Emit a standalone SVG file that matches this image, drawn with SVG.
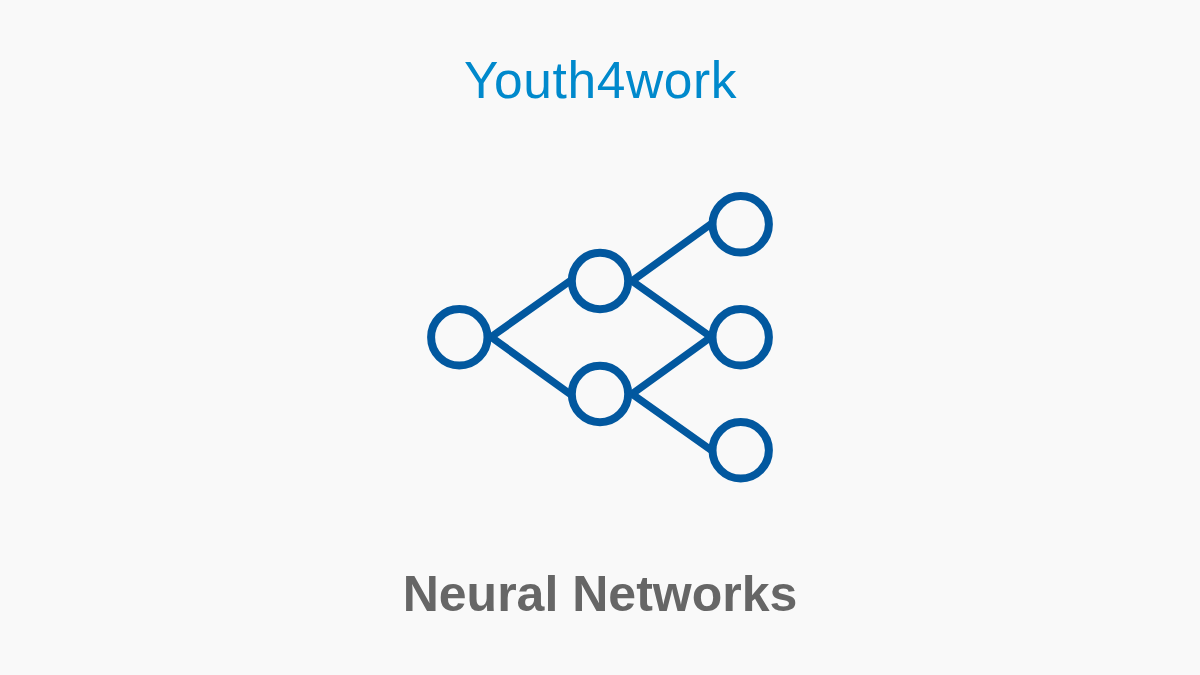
<svg xmlns="http://www.w3.org/2000/svg" width="1200" height="675" viewBox="0 0 1200 675">
<style>
.l{stroke:#02589f;stroke-width:7.5;fill:none;stroke-linecap:round}
.n{stroke:#02589f;stroke-width:8;fill:none}
text{font-family:"Liberation Sans",Arial,sans-serif;text-anchor:middle}
</style>
<rect width="1200" height="675" fill="#f9f9f9"/>
<text id="brand" x="600.5" y="98" font-size="51.5" letter-spacing="0.6" fill="#0089cc">Youth4work</text>
<g id="connectors">
<line class="l" x1="491" y1="337" x2="570" y2="281"/>
<line class="l" x1="491" y1="337" x2="570" y2="394"/>
<line class="l" x1="632" y1="281" x2="711" y2="224"/>
<line class="l" x1="632" y1="281" x2="711" y2="337"/>
<line class="l" x1="632" y1="394" x2="711" y2="337"/>
<line class="l" x1="632" y1="394" x2="711" y2="450"/>
</g>
<g id="n1"><circle class="n" cx="459.3" cy="337.3" r="28.2"/></g>
<g id="n2"><circle class="n" cx="600" cy="281" r="28.2"/></g>
<g id="n3"><circle class="n" cx="600" cy="394" r="28.2"/></g>
<g id="n4"><circle class="n" cx="740.7" cy="224.3" r="28.2"/></g>
<g id="n5"><circle class="n" cx="740.7" cy="337.3" r="28.2"/></g>
<g id="n6"><circle class="n" cx="740.7" cy="450.3" r="28.2"/></g>
<text id="title" x="600" y="611" font-size="50" font-weight="700" fill="#666666">Neural Networks</text>
</svg>
